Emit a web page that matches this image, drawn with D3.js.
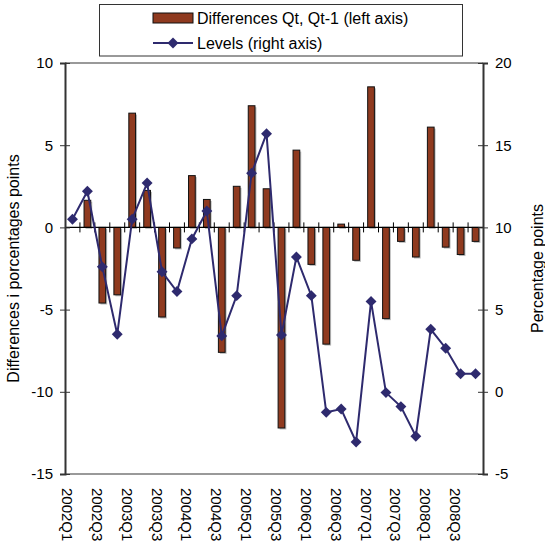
<!DOCTYPE html>
<html>
<head>
<meta charset="utf-8">
<script src="https://cdn.jsdelivr.net/npm/d3@7"></script>
<style>
  body { margin: 0; background: #fff; }
  text { font-family: "Liberation Sans", Arial, sans-serif; fill: #000; }
</style>
</head>
<body>
<svg id="chart" width="545" height="547"></svg>
<script>
const quarters = ["2002Q1","2002Q2","2002Q3","2002Q4","2003Q1","2003Q2","2003Q3","2003Q4",
  "2004Q1","2004Q2","2004Q3","2004Q4","2005Q1","2005Q2","2005Q3","2005Q4",
  "2006Q1","2006Q2","2006Q3","2006Q4","2007Q1","2007Q2","2007Q3","2007Q4",
  "2008Q1","2008Q2","2008Q3","2008Q4"];
const differences = [null, 1.65, -4.6, -4.1, 6.95, 2.25, -5.45, -1.25, 3.15, 1.7, -7.6, 2.5,
  7.4, 2.35, -12.2, 4.7, -2.25, -7.1, 0.2, -2.0, 8.55, -5.55, -0.85, -1.8, 6.1, -1.2, -1.65, -0.85];
const levels = [10.5, 12.2, 7.6, 3.5, 10.5, 12.7, 7.3, 6.1, 9.3, 11.0, 3.4, 5.85,
  13.3, 15.7, 3.45, 8.2, 5.85, -1.25, -1.05, -3.05, 5.5, -0.05, -0.9, -2.7, 3.8, 2.65, 1.1, 1.1];
const leftTicks = [10, 5, 0, -5, -10, -15];
const rightTicks = [20, 15, 10, 5, 0, -5];
const xLabels = quarters.filter((q, i) => i % 2 === 0);

const barColor = "#8F3A1F";
const lineColor = "#2E2A6E";

const svg = d3.select("#chart");
const L = 65, R = 483, T = 63, B = 474;

const x = d3.scaleBand().domain(quarters).range([L, R]).paddingInner(0.55).paddingOuter(0.275);
const yL = d3.scaleLinear().domain([-15, 10]).range([B, T]);
const yR = d3.scaleLinear().domain([-5, 20]).range([B, T]);
const cx = q => x(q) + x.bandwidth() / 2;
const step = x.step();

// plot frame top/bottom (gray)
svg.append("line").attr("x1", L).attr("x2", R).attr("y1", T).attr("y2", T)
  .attr("stroke", "#999").attr("stroke-width", 2);
svg.append("line").attr("x1", L).attr("x2", R).attr("y1", B).attr("y2", B)
  .attr("stroke", "#999").attr("stroke-width", 2);

// bars shadow + bars
const barData = quarters.map((q, i) => ({q, v: differences[i]})).filter(d => d.v !== null);
svg.append("g").selectAll("rect").data(barData).join("rect")
  .attr("x", d => x(d.q) + 1.5)
  .attr("y", d => Math.min(yL(d.v), yL(0)) + 1.5)
  .attr("width", x.bandwidth())
  .attr("height", d => Math.abs(yL(d.v) - yL(0)))
  .attr("fill", "#bbb");
svg.append("g").selectAll("rect").data(barData).join("rect")
  .attr("x", d => x(d.q))
  .attr("y", d => Math.min(yL(d.v), yL(0)))
  .attr("width", x.bandwidth())
  .attr("height", d => Math.abs(yL(d.v) - yL(0)))
  .attr("fill", barColor).attr("stroke", "#111").attr("stroke-width", 1);

// zero category axis with ticks at boundaries
const zeroY = yL(0);
svg.append("line").attr("x1", L).attr("x2", R).attr("y1", zeroY).attr("y2", zeroY)
  .attr("stroke", "#000").attr("stroke-width", 1.2);
const boundaries = d3.range(1, quarters.length);
svg.append("g").selectAll("line").data(boundaries).join("line")
  .attr("x1", k => L + k * step).attr("x2", k => L + k * step)
  .attr("y1", zeroY - 5).attr("y2", zeroY + 5)
  .attr("stroke", "#000").attr("stroke-width", 1);

const fmt = d => String(d);

// left axis
const gL = svg.append("g").attr("transform", `translate(${L},0)`)
  .call(d3.axisLeft(yL).tickValues(leftTicks).tickSize(5).tickPadding(7).tickFormat(fmt));
gL.select(".domain").attr("stroke", "#333").attr("stroke-width", 2);
gL.selectAll(".tick line").attr("x1", 5).attr("x2", -5).attr("stroke", "#333");
gL.selectAll(".tick text").attr("font-size", 15).attr("font-family", "Liberation Sans, Arial, sans-serif").attr("fill", "#000");

// right axis
const gR = svg.append("g").attr("transform", `translate(${R},0)`)
  .call(d3.axisRight(yR).tickValues(rightTicks).tickSize(5).tickPadding(7).tickFormat(fmt));
gR.select(".domain").attr("stroke", "#333").attr("stroke-width", 2);
gR.selectAll(".tick line").attr("x1", -5).attr("x2", 5).attr("stroke", "#333");
gR.selectAll(".tick text").attr("font-size", 15).attr("font-family", "Liberation Sans, Arial, sans-serif").attr("fill", "#000");

// line + diamonds
const line = d3.line().x((d, i) => cx(quarters[i])).y(d => yR(d));
svg.append("path").datum(levels).attr("d", line)
  .attr("fill", "none").attr("stroke", lineColor).attr("stroke-width", 2);
const diamond = d3.symbol().type(d3.symbolDiamond2).size(76);
svg.append("g").selectAll("path").data(levels).join("path")
  .attr("transform", (d, i) => `translate(${cx(quarters[i])},${yR(d)})`)
  .attr("d", diamond).attr("fill", lineColor);

// x labels (rotated 90deg)
svg.append("g").selectAll("text").data(xLabels).join("text")
  .attr("transform", d => `translate(${cx(d) - 10.5},488) rotate(90)`)
  .attr("font-size", 15).text(d => d);

// axis titles
svg.append("text").attr("transform", `translate(18.5,${(T + B) / 2}) rotate(-90)`)
  .attr("text-anchor", "middle").attr("font-size", 16).text("Differences i porcentages points");
svg.append("text").attr("transform", `translate(543,${(T + B) / 2}) rotate(-90)`)
  .attr("text-anchor", "middle").attr("font-size", 16).text("Percentage points");

// legend
const lg = svg.append("g");
lg.append("rect").attr("x", 99.5).attr("y", 4.5).attr("width", 363).attr("height", 51.5)
  .attr("fill", "#fff").attr("stroke", "#333").attr("stroke-width", 1);
lg.append("rect").attr("x", 153).attr("y", 13).attr("width", 40).attr("height", 10)
  .attr("fill", barColor).attr("stroke", "#111").attr("stroke-width", 1);
lg.append("text").attr("x", 197).attr("y", 24).attr("font-size", 16).text("Differences Qt, Qt-1 (left axis)");
lg.append("line").attr("x1", 153).attr("x2", 193).attr("y1", 43).attr("y2", 43)
  .attr("stroke", lineColor).attr("stroke-width", 2);
lg.append("path").attr("transform", "translate(173,43)").attr("d", diamond).attr("fill", lineColor);
lg.append("text").attr("x", 197).attr("y", 49).attr("font-size", 16).text("Levels (right axis)");
</script>
</body>
</html>
